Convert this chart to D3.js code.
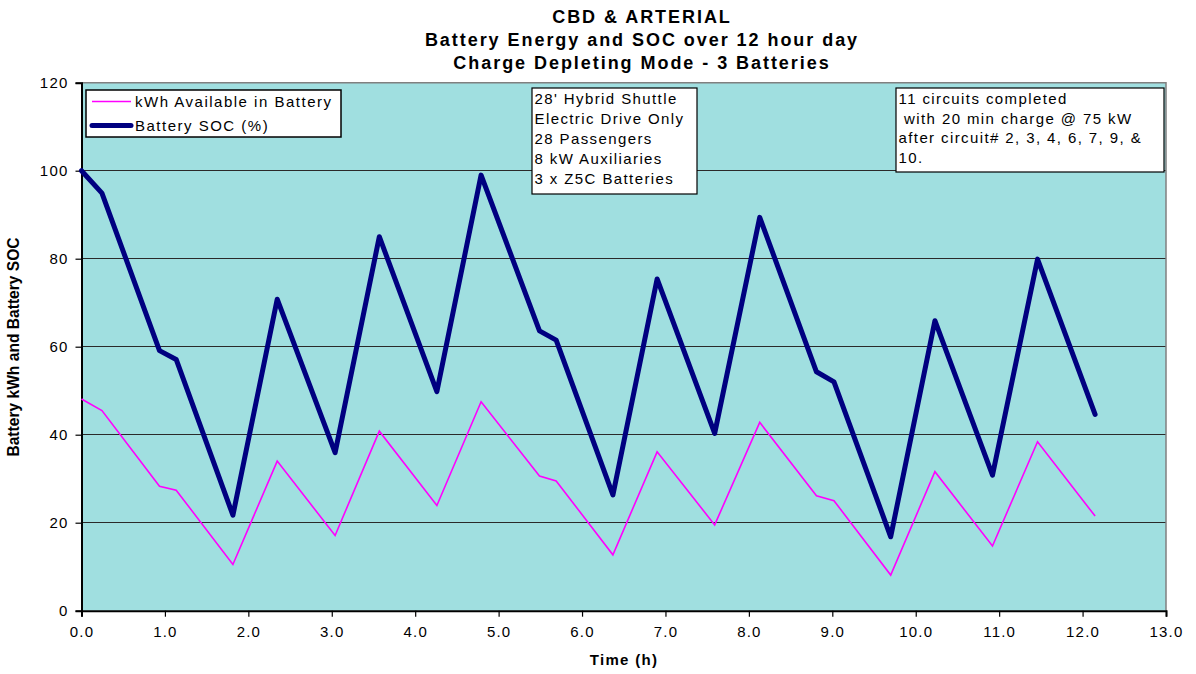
<!DOCTYPE html>
<html>
<head>
<meta charset="utf-8">
<script src="https://cdn.jsdelivr.net/npm/d3@7/dist/d3.min.js"></script>
<style>
  html, body { margin: 0; padding: 0; background: #fff; }
  svg { display: block; font-family: Arial, "Liberation Sans", sans-serif; }
</style>
</head>
<body>
<svg id="chart" width="1196" height="674"></svg>
<script>
// Time of each logged point over the day (hours)
const timeHours = [0.00, 0.245, 0.935, 1.135, 1.815, 2.346, 3.04, 3.57, 4.26, 4.79, 5.49, 5.69,
                   6.37, 6.90, 7.59, 8.13, 8.81, 9.02, 9.70, 10.23, 10.92, 11.46, 12.15];
// Energy available in the battery pack (kWh)
const kwhAvailable = [48.1, 45.5, 28.3, 27.4, 10.5, 34.0, 17.1, 40.8, 23.9, 47.5, 30.6, 29.5,
                      12.7, 36.1, 19.5, 42.8, 26.1, 25.0, 8.1, 31.6, 14.7, 38.4, 21.5];
// Battery state of charge (%)
const batterySOC = [100.0, 94.9, 59.1, 57.1, 21.7, 70.8, 35.9, 85.0, 49.8, 99.0, 63.6, 61.5,
                    26.3, 75.4, 40.3, 89.4, 54.3, 52.0, 16.8, 65.9, 30.8, 79.9, 44.6];

const seriesNames = ["kWh Available in Battery", "Battery SOC (%)"];
const xTicks = [0, 1, 2, 3, 4, 5, 6, 7, 8, 9, 10, 11, 12, 13];
const yTicks = [0, 20, 40, 60, 80, 100, 120];

const titleLines = ["CBD & ARTERIAL", "Battery Energy and SOC over 12 hour day", "Charge Depleting Mode - 3 Batteries"];
const vehicleNote = ["28' Hybrid Shuttle", "Electric Drive Only", "28 Passengers", "8 kW Auxiliaries", "3 x Z5C Batteries"];
const circuitNote = ["11 circuits completed", " with 20 min charge @ 75 kW", "after circuit# 2, 3, 4, 6, 7, 9, &", "10."];

const svg = d3.select("#chart");
const plot = { left: 81.5, right: 1166, top: 82.7, bottom: 610.7 };

const x = d3.scaleLinear().domain([0, 13]).range([plot.left, plot.right]);
const y = d3.scaleLinear().domain([0, 120]).range([plot.bottom, plot.top]);

// plot background
svg.append("rect")
  .attr("x", plot.left).attr("y", plot.top)
  .attr("width", plot.right - plot.left).attr("height", plot.bottom - plot.top)
  .attr("fill", "#a0dfe0");

// horizontal gridlines
svg.append("g").selectAll("line")
  .data(yTicks.filter(d => d > 0 && d < 120))
  .join("line")
  .attr("x1", plot.left).attr("x2", plot.right)
  .attr("y1", d => y(d)).attr("y2", d => y(d))
  .attr("stroke", "#2a2a2a").attr("stroke-width", 1)
  .attr("shape-rendering", "crispEdges");

// top and right plot border
svg.append("path")
  .attr("d", `M${plot.left},${plot.top}H${plot.right}V${plot.bottom}`)
  .attr("fill", "none").attr("stroke", "#808080").attr("stroke-width", 1.5);

// axes
const xAxis = d3.axisBottom(x).tickValues(xTicks).tickFormat(d3.format(".1f")).tickSize(6).tickPadding(8);
const yAxis = d3.axisLeft(y).tickValues(yTicks).tickFormat(d3.format("d")).tickSize(6).tickPadding(7);

const gx = svg.append("g").attr("transform", `translate(0,${plot.bottom})`).call(xAxis);
const gy = svg.append("g").attr("transform", `translate(${plot.left},0)`).call(yAxis);

[gx, gy].forEach(g => {
  g.select(".domain").attr("stroke", "#000").attr("stroke-width", 2);
  g.selectAll(".tick line").attr("stroke", "#000").attr("stroke-width", 1.2);
  g.selectAll(".tick text")
    .attr("fill", "#000")
    .style("font-size", "15px")
    .style("letter-spacing", "1.2px")
    .style("font-family", "Arial, 'Liberation Sans', sans-serif");
});
gx.selectAll(".tick text").attr("dy", "0.85em");

// series lines
const line = vals => d3.line()
  .x((d, i) => x(timeHours[i]))
  .y(d => y(d))(vals);

svg.append("path")
  .attr("d", line(kwhAvailable))
  .attr("fill", "none").attr("stroke", "#ff00ff").attr("stroke-width", 1.6)
  .attr("stroke-linejoin", "miter");

svg.append("path")
  .attr("d", line(batterySOC))
  .attr("fill", "none").attr("stroke", "#000080").attr("stroke-width", 5)
  .attr("stroke-linejoin", "round").attr("stroke-linecap", "round");

// titles
svg.append("g").selectAll("text")
  .data(titleLines)
  .join("text")
  .attr("x", 642).attr("y", (d, i) => 22.5 + i * 23)
  .attr("text-anchor", "middle")
  .style("font-weight", "bold").style("font-size", "18px").style("letter-spacing", "1.95px")
  .text(d => d);

svg.append("text")
  .attr("x", 624).attr("y", 665)
  .attr("text-anchor", "middle")
  .style("font-weight", "bold").style("font-size", "15px").style("letter-spacing", "1.3px")
  .text("Time (h)");

svg.append("text")
  .attr("transform", "translate(19,347) rotate(-90)")
  .attr("text-anchor", "middle")
  .style("font-weight", "bold").style("font-size", "15.6px")
  .text("Battery kWh and Battery SOC");

// legend
const legend = svg.append("g");
legend.append("rect")
  .attr("x", 86).attr("y", 90).attr("width", 255).attr("height", 47)
  .attr("fill", "#fff").attr("stroke", "#000").attr("stroke-width", 1.5);
const legendStyles = [
  { color: "#ff00ff", width: 1.6 },
  { color: "#000080", width: 5 }
];
seriesNames.forEach((name, i) => {
  const ly = 101.5 + i * 24;
  legend.append("line")
    .attr("x1", 92).attr("x2", 131).attr("y1", ly).attr("y2", ly)
    .attr("stroke", legendStyles[i].color).attr("stroke-width", legendStyles[i].width)
    .attr("stroke-linecap", i === 1 ? "round" : "butt");
  legend.append("text")
    .attr("x", 135).attr("y", ly + 5.5)
    .style("font-size", "15px").style("letter-spacing", "1.5px")
    .text(name);
});

// note boxes
function noteBox(x0, y0, w, h, lines, firstBaseline, step) {
  const g = svg.append("g");
  g.append("rect")
    .attr("x", x0).attr("y", y0).attr("width", w).attr("height", h)
    .attr("fill", "#fff").attr("stroke", "#000").attr("stroke-width", 1.2);
  g.selectAll("text")
    .data(lines)
    .join("text")
    .attr("x", x0 + 2.5).attr("y", (d, i) => firstBaseline + i * step)
    .attr("xml:space", "preserve")
    .style("white-space", "pre")
    .style("font-size", "15px").style("letter-spacing", "1.4px")
    .text(d => d);
}
noteBox(532, 88, 165, 106, vehicleNote, 104, 20);
noteBox(896, 88, 268, 84, circuitNote, 104, 19.7);
</script>
</body>
</html>
